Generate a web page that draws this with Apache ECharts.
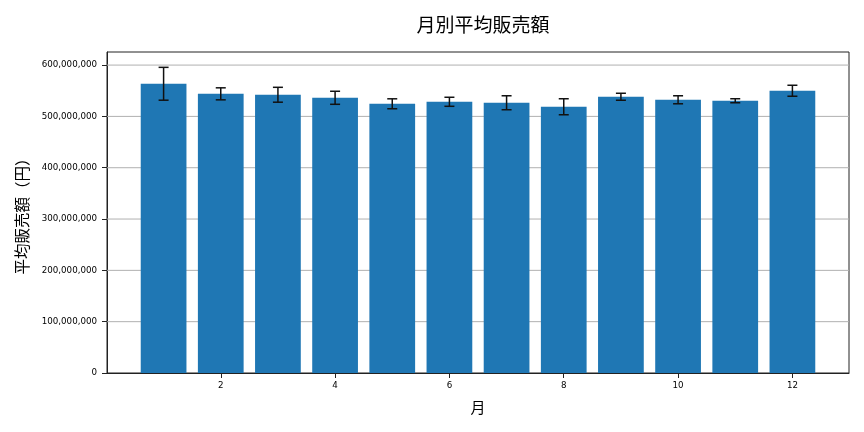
<!DOCTYPE html>
<html>
<head>
<meta charset="utf-8">
<script src="https://cdn.jsdelivr.net/npm/echarts@6/dist/echarts.min.js"></script>
<style>
  html, body { margin: 0; padding: 0; background: #fff; }
  #chart { width: 864px; height: 432px; }
</style>
</head>
<body>
<div id="chart"></div>
<script>
const months = [1, 2, 3, 4, 5, 6, 7, 8, 9, 10, 11, 12];
const avgSales = [563.6e6, 544.0e6, 542.2e6, 536.3e6, 524.6e6, 528.5e6, 526.6e6, 518.8e6, 538.3e6, 532.4e6, 530.5e6, 550.0e6];
const salesErr = [32.0e6, 11.7e6, 14.5e6, 12.7e6, 9.7e6, 8.8e6, 13.6e6, 15.6e6, 6.8e6, 7.8e6, 3.9e6, 10.7e6];
const xTicks = [2, 4, 6, 8, 10, 12];
const yTicks = [0, 100000000, 200000000, 300000000, 400000000, 500000000, 600000000];

const chart = echarts.init(document.getElementById('chart'));
const font = '"Noto Sans CJK JP", "DejaVu Sans", sans-serif';
const tickFont = '"DejaVu Sans", sans-serif';

const barData = months.map((m, i) => [m, avgSales[i]]);
const errData = months.map((m, i) => [m, avgSales[i] - salesErr[i], avgSales[i] + salesErr[i]]);

const option = {
    animation: false,
    title: {
        text: '月別平均販売額',
        left: 478,
        textAlign: 'center',
        top: 10,
        textStyle: { fontFamily: font, fontSize: 19, fontWeight: 'normal', color: '#000' }
    },
    grid: {
        left: 107, right: 15, top: 52, bottom: 59,
        outerBoundsMode: 'none',
        containLabel: false,
        show: true, borderColor: '#222', borderWidth: 1
    },
    xAxis: {
        type: 'value',
        min: 0.01,
        max: 12.99,
        name: '月',
        nameLocation: 'middle',
        nameGap: 27,
        nameMoveOverlap: false,
        nameTextStyle: { fontFamily: font, fontSize: 15, color: '#000' },
        axisLine: { show: true, onZero: false, lineStyle: { color: '#222' } },
        axisTick: { show: true, customValues: xTicks, length: 5, lineStyle: { color: '#222' } },
        axisLabel: { customValues: xTicks, fontFamily: tickFont, fontSize: 8.7, color: '#000', margin: 8 },
        splitLine: { show: false }
    },
    yAxis: {
        type: 'value',
        min: 0,
        max: 625.5e6,
        name: '平均販売額（円）',
        nameLocation: 'middle',
        nameGap: 77,
        nameMoveOverlap: false,
        nameTextStyle: { fontFamily: font, fontSize: 15.5, color: '#000' },
        axisLine: { show: true, lineStyle: { color: '#222' } },
        axisTick: { show: true, customValues: yTicks, length: 5, lineStyle: { color: '#222' } },
        axisLabel: {
            customValues: yTicks,
            fontFamily: tickFont, fontSize: 8.7, color: '#000', margin: 10,
            formatter: v => v.toLocaleString('en-US')
        },
        splitLine: { show: false }
    },
    series: [
        {
            type: 'custom',
            data: yTicks.slice(1),
            encode: { y: 0 },
            renderItem: (params, api) => {
                const p = api.coord([0.01, api.value(0)]);
                const q = api.coord([12.99, api.value(0)]);
                return {
                    type: 'line',
                    shape: { x1: p[0], y1: p[1], x2: q[0], y2: q[1] },
                    style: { stroke: '#b0b0b0', lineWidth: 1 }
                };
            },
            z: 1
        },
        {
            type: 'custom',
            data: barData,
            encode: { x: 0, y: 1 },
            renderItem: (params, api) => {
                const x = api.value(0);
                const y = api.value(1);
                const p0 = api.coord([x - 0.4, y]);
                const p1 = api.coord([x + 0.4, 0]);
                return {
                    type: 'rect',
                    shape: { x: p0[0], y: p0[1], width: p1[0] - p0[0], height: p1[1] - p0[1] },
                    style: { fill: '#1f77b4' }
                };
            },
            z: 2
        },
        {
            type: 'custom',
            data: errData,
            encode: { x: 0, y: [1, 2] },
            renderItem: (params, api) => {
                const x = api.value(0);
                const lo = api.coord([x, api.value(1)]);
                const hi = api.coord([x, api.value(2)]);
                const cap = 5;
                const st = { stroke: '#111', lineWidth: 1.5 };
                return {
                    type: 'group',
                    children: [
                        { type: 'line', shape: { x1: lo[0], y1: lo[1], x2: hi[0], y2: hi[1] }, style: st },
                        { type: 'line', shape: { x1: lo[0] - cap, y1: lo[1], x2: lo[0] + cap, y2: lo[1] }, style: st },
                        { type: 'line', shape: { x1: hi[0] - cap, y1: hi[1], x2: hi[0] + cap, y2: hi[1] }, style: st }
                    ]
                };
            },
            z: 3
        }
    ]
};
option && chart.setOption(option);
</script>
</body>
</html>
